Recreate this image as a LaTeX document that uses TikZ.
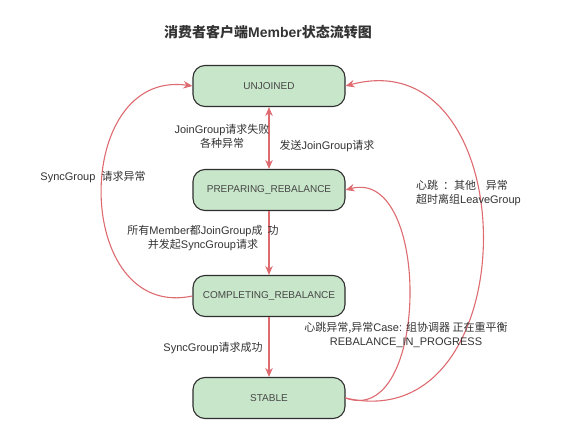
\documentclass[tikz,border=0pt]{standalone}
\usepackage{fontspec}
\setmainfont{Liberation Sans}
\newfontfamily\cjk{Noto Sans CJK SC}
\definecolor{stategreen}{HTML}{C8E6C9}
\definecolor{stateborder}{HTML}{2E2E2E}
\definecolor{flowred}{HTML}{DD6B70}
\definecolor{labelgray}{HTML}{333333}
\usetikzlibrary{arrows.meta, positioning}

\begin{document}
\begin{tikzpicture}[x=1pt, y=-1pt,
      statebox/.style={draw=stateborder, fill=stategreen, rounded corners=12pt,
                    line width=1.1pt, minimum width=152pt, minimum height=41pt,
                    font=\fontsize{10}{12}\selectfont, text=black!72, inner sep=0pt},
      lbl/.style={font=\fontsize{11}{14}\selectfont, text=labelgray, align=center, inner sep=1pt},
      arr/.style={-{Stealth[length=9pt, width=7.5pt]}, line width=1.1pt, flowred},
      dblarr/.style={{Stealth[length=9pt, width=7.5pt]}-{Stealth[length=9pt, width=7.5pt]}, line width=1.1pt, flowred}
    ]
      \useasboundingbox (0,0) rectangle (588,433);

      \node[font=\fontsize{14}{16}\selectfont\bfseries, text=labelgray] (title) at (268,32) {{\cjk 消费者客户端}Member{\cjk 状态流转图}};

      \node[statebox] (unjoined) at (269,86) {UNJOINED};
      \node[statebox] (preparing) at (269,190) {PREPARING\_REBALANCE};
      \node[statebox] (completing) at (269,296) {COMPLETING\_REBALANCE};
      \node[statebox] (stable) at (269,398) {STABLE};

      \draw[dblarr] (unjoined) -- (preparing);
      \draw[arr] (preparing) -- (completing);
      \draw[arr] (completing) -- (stable);
      \draw[arr] (completing.west) to[out=-168, in=172, looseness=1.5] (unjoined.west);
      \draw[arr] (stable.east) to[out=-20, in=15, looseness=1.1] (preparing.east);
      \draw[arr] (stable.east) to[out=-13, in=15, looseness=1.55] (unjoined.east);

      % labels
      \node[lbl] (failnote) at (222,136) {JoinGroup{\cjk 请求失败}\\{\cjk 各种异常}};
      \node[lbl] (sendnote) at (327,146) {{\cjk 发送}JoinGroup{\cjk 请求}};
      \node[lbl] (syncfail) at (93,177) {SyncGroup\ \ {\cjk 请求异常}};
      \node[lbl] (joinednote) at (203,238) {{\cjk 所有}Member{\cjk 都}JoinGroup{\cjk 成\ \ 功}\\{\cjk 并发起}SyncGroup{\cjk 请求}};
      \node[lbl] (hbnote) at (406,335) {{\cjk 心跳异常,异常}Case: {\cjk 组协调器 正在重平衡}\\REBALANCE\_IN\_PROGRESS};
      \node[lbl] (syncok) at (213,348) {SyncGroup{\cjk 请求成功}};
      \node[lbl, align=left, anchor=west] (leavenote) at (415,193) {{\cjk 心跳\ \ ：其他\ \ \ \ 异常}\\{\cjk 超时离组}LeaveGroup};
    \end{tikzpicture}
\end{document}
